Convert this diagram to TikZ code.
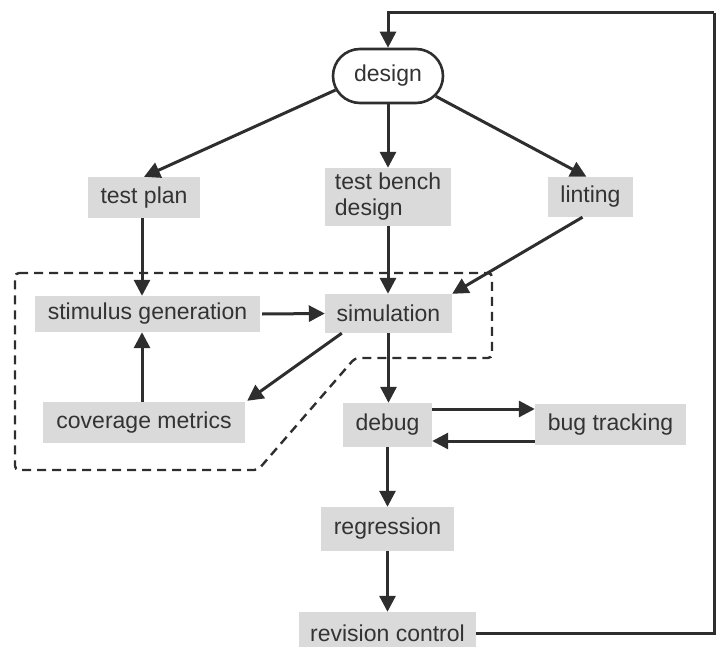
\documentclass[tikz,border=0pt]{standalone}
\usepackage{fontspec}
\setmainfont{Liberation Sans}
\usetikzlibrary{arrows.meta,calc,shapes.misc}
\definecolor{boxgray}{HTML}{DADADA}
\definecolor{linegray}{HTML}{2E2E2E}
\definecolor{textgray}{HTML}{333333}
\tikzset{
  box/.style={rectangle, fill=boxgray, text=textgray, inner sep=0pt,
    font=\fontsize{23}{26}\selectfont, align=left},
  pill/.style={rounded rectangle, draw=linegray, line width=2.6pt, fill=white,
    text=textgray, inner sep=0pt, minimum width=110pt, minimum height=54pt,
    font=\fontsize{23}{26}\selectfont},
  arr/.style={draw=linegray, line width=3pt, -{Triangle[length=16pt,width=16pt]}},
  plain/.style={draw=linegray, line width=3pt},
  region/.style={draw=linegray, line width=2.4pt, dash pattern=on 9pt off 6pt, rounded corners=4pt}
}
\begin{document}
\begin{tikzpicture}[x=1pt,y=-1pt]
\useasboundingbox (0,0) rectangle (717,647);
% dashed region
\draw[region] (15,273) -- (492,273) -- (492,358) -- (355,358) -- (258,470) -- (15,470) -- cycle;
% nodes
\node[pill] (design) at (388,76) {design};
\node[box, minimum width=112pt, minimum height=41pt] (testplan) at (144,197.5) {test plan};
\node[box, minimum width=126pt, minimum height=58pt] (bench) at (388,197) {test bench\\design};
\node[box, minimum width=85pt, minimum height=40pt] (linting) at (590.5,197) {linting};
\node[box, minimum width=225pt, minimum height=36pt] (stimulus) at (147.5,314) {stimulus generation};
\node[box, minimum width=127pt, minimum height=39pt] (simulation) at (388.5,313.5) {simulation};
\node[box, minimum width=202pt, minimum height=41pt] (coverage) at (144,422.5) {coverage metrics};
\node[box, minimum width=89pt, minimum height=44pt] (debug) at (387.5,425) {debug};
\node[box, minimum width=151pt, minimum height=41pt] (bugtrack) at (610.5,424.5) {bug tracking};
\node[box, minimum width=133pt, minimum height=44pt] (regression) at (387.5,529) {regression};
\node[box, minimum width=177pt, minimum height=42pt] (revision) at (387.5,633) {revision control};
\coordinate (corner) at (714,13);
\coordinate (tpx) at ($(testplan.south)+(-2,0)$);
\coordinate (d1) at ($(debug.east)+(0,-16)$);
\coordinate (d2) at ($(bugtrack.west)+(0,16.5)$);
\coordinate (lin) at ($(linting.south)+(-8,0)$);
\coordinate (sim) at ($(simulation.south west)+(17,0)$);
\coordinate (cov) at ($(coverage.north east)+(2,-1)$);
\coordinate (stx) at ($(stimulus.east)+(2,0)$);
\coordinate (lnt) at ($(linting.north)+(-4,0)$);
% connectors
\draw[arr] (design.195) -- (testplan.north);
\draw[arr] (design.south) -- (bench.north);
\draw[arr] (design.337) -- (lnt);
\draw[arr] (tpx) -- (tpx |- stimulus.north);
\draw[arr] (bench.south) -- (bench.south |- simulation.north);
\draw[arr] (lin) -- (simulation.north east);
\draw[arr] (stx) -- (simulation.west);
\draw[arr] (tpx |- coverage.north) -- (tpx |- stimulus.south);
\draw[arr] (sim) -- (cov);
\draw[arr] (simulation.south) -- (simulation.south |- debug.north);
\draw[arr] (d1) -- (d1 -| bugtrack.west);
\draw[arr] (d2) -- (d2 -| debug.east);
\draw[arr] (debug.south) -- (debug.south |- regression.north);
\draw[arr] (regression.south) -- (regression.south |- revision.north);
\draw[plain] (revision.east) -| (corner);
\draw[arr] (corner) -| (design.north);
\end{tikzpicture}
\end{document}
